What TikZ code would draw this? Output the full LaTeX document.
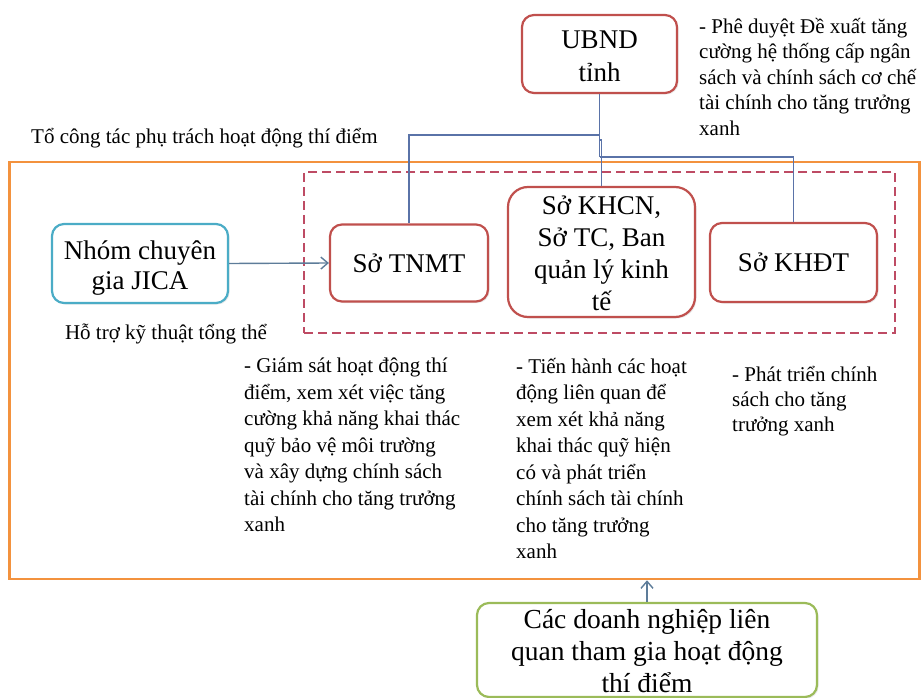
\documentclass[tikz,border=0pt]{standalone}
\usepackage{fontspec}
\setmainfont{Liberation Serif}
\usetikzlibrary{arrows.meta,shadows}

\definecolor{unitred}{HTML}{C0504D}
\definecolor{teamorange}{HTML}{F3923E}
\definecolor{groupdash}{HTML}{BE4B64}
\definecolor{expertcyan}{HTML}{4BACC6}
\definecolor{firmgreen}{HTML}{9BBB59}
\definecolor{linkblue}{HTML}{5A73A8}
\definecolor{arrowgray}{HTML}{5D7C99}

\begin{document}
\begin{tikzpicture}[x=1pt,y=-1pt,
  unit/.style={draw=unitred, line width=2.2pt, rounded corners=12pt, fill=white,
    inner sep=0pt,
    drop shadow={shadow xshift=1.5pt, shadow yshift=-1.5pt, opacity=0.18}},
  unittext/.style={align=center, inner sep=0pt,
    font=\rmfamily\fontsize{27}{32}\selectfont},
  note/.style={align=left, inner sep=0pt, anchor=north west,
    font=\rmfamily\fontsize{21}{26}\selectfont},
  link/.style={draw=linkblue, line width=1.1pt},
  flow/.style={draw=arrowgray, line width=1.4pt,
    -{Straight Barb[length=7pt, width=12pt, line width=1.4pt]}},
]
\useasboundingbox (0,0) rectangle (921,698);

% working group frame and the inner group of departments
\node[draw=teamorange, line width=2.5pt, minimum width=910pt, minimum height=417pt,
  inner sep=0pt] (team) at (464.5,370.5) {};
\node[draw=groupdash, line width=2.4pt, dash pattern=on 9pt off 5pt,
  minimum width=591pt, minimum height=161pt, inner sep=0pt] (depts) at (599.5,252.5) {};

% provincial committee
\node[unit, minimum width=155pt, minimum height=78pt] (ubnd) at (599.5,54) {};
\node[unittext, font=\rmfamily\fontsize{27}{33}\selectfont] (ubndtext)
  at ([yshift=-2pt]ubnd.center) {UBND\\tỉnh};
\node[note, font=\rmfamily\fontsize{21}{25.5}\selectfont] (ubndnote) at (699,18)
  {- Phê duyệt Đề xuất tăng\\cường hệ thống cấp ngân\\sách và chính sách cơ chế\\tài chính cho tăng trưởng\\xanh};

\node[note] (teamlabel) at (31,128) {Tổ công tác phụ trách hoạt động thí điểm};

% departments
\node[unit, minimum width=158pt, minimum height=77pt] (tnmt) at (409,263) {};
\node[unittext] (tnmttext) at (tnmt.center) {Sở TNMT};
\node[unit, minimum width=187pt, minimum height=130pt, rounded corners=20pt]
  (khcn) at (601.5,252) {};
\node[unittext] (khcntext) at ([yshift=-1.5pt]khcn.center)
  {Sở KHCN,\\Sở TC, Ban\\quản lý kinh\\tế};
\node[unit, minimum width=167pt, minimum height=79pt] (khdt) at (793.5,262.5) {};
\node[unittext] (khdttext) at (khdt.center) {Sở KHĐT};

% experts
\node[unit, draw=expertcyan, minimum width=176pt, minimum height=79pt]
  (jica) at (140,263.5) {};
\node[unittext, font=\rmfamily\fontsize{27}{30.5}\selectfont] (jicatext)
  at ([yshift=-4.5pt]jica.center) {Nhóm chuyên\\gia JICA};
\node[note, anchor=north] (jicanote) at (166,324) {Hỗ trợ kỹ thuật tổng thể};

% tasks of each department
\node[note, font=\rmfamily\fontsize{21}{26.5}\selectfont] (tnmtnote) at (244,358)
  {- Giám sát hoạt động thí\\điểm, xem xét việc tăng\\cường khả năng khai thác\\quỹ bảo vệ môi trường\\và xây dựng chính sách\\tài chính cho tăng trưởng\\xanh};
\node[note, font=\rmfamily\fontsize{21}{26.5}\selectfont] (khcnnote) at (516,358)
  {- Tiến hành các hoạt\\động liên quan để\\xem xét khả năng\\khai thác quỹ hiện\\có và phát triển\\chính sách tài chính\\cho tăng trưởng\\xanh};
\node[note, font=\rmfamily\fontsize{21}{25}\selectfont] (khdtnote) at (732,366)
  {- Phát triển chính\\sách cho tăng\\trưởng xanh};

% participating enterprises
\node[unit, draw=firmgreen, minimum width=340pt, minimum height=94pt]
  (firms) at (647,650) {};
\node[unittext, font=\rmfamily\fontsize{27.5}{32}\selectfont] (firmstext)
  at ([yshift=-1pt]firms.center)
  {Các doanh nghiệp liên\\quan tham gia hoạt động\\thí điểm};

% reporting lines
\coordinate (split) at (599.5,135);
\coordinate (jog) at (599.5,140);
\coordinate (split2) at (599.5,157);
\draw[link] (ubnd.south) -- (split2);
\draw[link] (split) -| (tnmt.north);
\draw[link] (jog) -| (khcn.north);
\draw[link] (split2) -| (khdt.north);

% support arrows
\draw[flow] (jica.east) -- (tnmt.west);
\draw[flow] (firms.north) -- (firms.north |- team.south);
\end{tikzpicture}
\end{document}
